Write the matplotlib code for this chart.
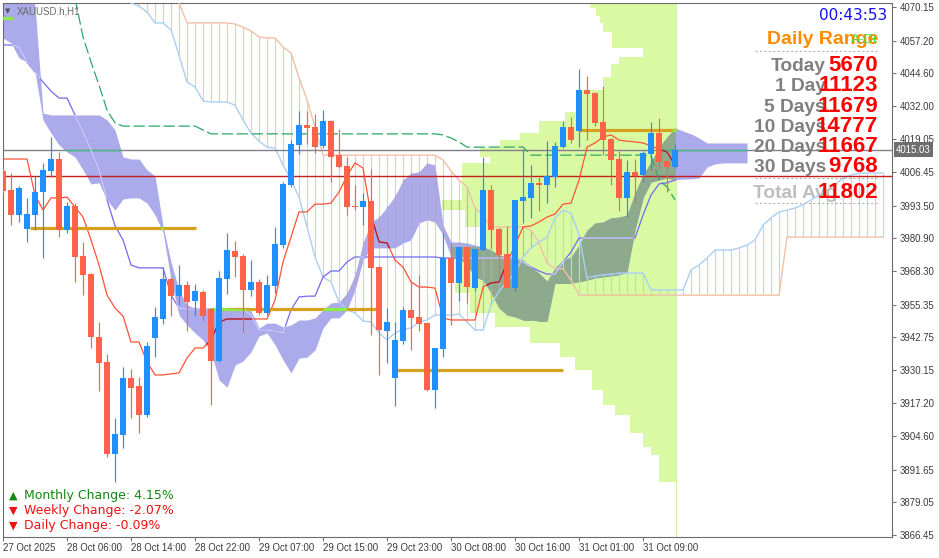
import numpy as np
import matplotlib
matplotlib.use("Agg")
import matplotlib.pyplot as plt
from matplotlib.path import Path
from matplotlib.lines import Line2D

plt.rcParams['font.family'] = ['Liberation Sans', 'DejaVu Sans']

# ---------------- data ----------------
opens = [4006.9, 3999.6, 3989.9, 3984.5, 3989.9, 3998.8, 4006.9, 4011.5, 3984.1, 3993.4,
         3974.1, 3967.1, 3942.8, 3933.2, 3897.7, 3905.0, 3927.0, 3923.9, 3912.7, 3942.5,
         3949.8, 3965.2, 3958.7, 3962.9, 3956.7, 3960.2, 3953.6, 3933.6, 3965.2, 3976.0,
         3974.1, 3961.0, 3964.1, 3952.1, 3962.5, 3978.3, 4001.5, 4016.9, 4024.6, 4023.9,
         4016.5, 4026.2, 4013.1, 4008.8, 3993.4, 3993.0, 3995.3, 3969.8, 3945.2, 3927.0,
         3941.3, 3953.3, 3950.6, 3948.2, 3922.4, 3938.2, 3973.3, 3963.7, 3977.6, 3961.7,
         3976.4, 3999.6, 3984.5, 3974.9, 3961.7, 3995.3, 3996.5, 4002.3, 4001.5, 4004.6,
         4016.1, 4023.9, 4022.3, 4038.1, 4037.0, 4025.8, 4019.2, 4011.5, 3996.5, 4006.5,
         4005.3, 4013.4, 4021.5, 4010.7, 4008.4]
highs = [4008.0, 4006.1, 4001.1, 3996.5, 4005.0, 4010.0, 4020.0, 4014.2, 3994.9, 3994.5,
         3979.5, 3967.5, 3948.6, 3936.3, 3911.6, 3931.3, 3930.5, 3927.4, 3940.9, 3954.4,
         3969.8, 3966.0, 3970.6, 3964.4, 3963.3, 3961.0, 3954.0, 3968.3, 3983.0, 3979.9,
         3974.9, 3972.5, 3965.2, 3966.8, 3985.3, 4002.6, 4018.8, 4030.0, 4030.0, 4028.9,
         4030.4, 4026.6, 4023.1, 4012.3, 4001.5, 3998.4, 4007.7, 3970.2, 3954.0, 3948.6,
         3954.4, 3964.1, 3966.8, 3948.6, 3938.6, 3983.0, 3979.1, 3977.6, 3978.0, 3976.8,
         4012.3, 4001.5, 3984.9, 3985.7, 3995.7, 4015.4, 4009.2, 4004.6, 4018.5, 4018.1,
         4026.2, 4027.7, 4046.2, 4043.5, 4037.4, 4039.7, 4019.6, 4014.6, 4011.1, 4011.5,
         4014.6, 4025.8, 4027.3, 4011.1, 4017.3]
lows = [3998.0, 3986.0, 3987.2, 3979.5, 3984.1, 3973.3, 4004.6, 3981.4, 3983.0, 3964.1,
        3959.0, 3938.6, 3922.0, 3896.5, 3886.9, 3900.0, 3911.6, 3905.8, 3912.0, 3935.1,
        3947.9, 3950.9, 3955.2, 3945.2, 3950.9, 3949.0, 3916.6, 3933.2, 3959.4, 3966.0,
        3944.4, 3958.7, 3951.3, 3951.3, 3959.8, 3977.2, 4000.7, 4013.4, 4017.3, 4013.8,
        4015.7, 4002.6, 4008.0, 3989.9, 3991.8, 3986.0, 3943.6, 3928.2, 3932.8, 3916.2,
        3940.1, 3937.8, 3945.2, 3922.0, 3915.4, 3935.1, 3947.5, 3956.7, 3956.0, 3960.6,
        3976.0, 3977.2, 3966.0, 3961.7, 3960.6, 3986.8, 3988.8, 3991.5, 3994.5, 4000.7,
        4015.7, 4017.7, 4016.1, 4018.8, 4024.2, 4013.1, 4001.5, 3991.5, 3989.1, 3994.5,
        4002.6, 4007.3, 4007.3, 3998.8, 4008.0]
closes = [3999.2, 3989.9, 4000.3, 3990.3, 3998.8, 4007.3, 4011.5, 3984.1, 3993.4, 3973.7,
          3966.8, 3942.8, 3932.8, 3897.7, 3905.4, 3927.0, 3923.2, 3912.7, 3939.4, 3950.6,
          3965.2, 3958.7, 3962.9, 3956.3, 3960.6, 3950.9, 3933.6, 3965.6, 3976.4, 3973.7,
          3961.0, 3964.1, 3952.1, 3962.9, 3978.7, 4001.9, 4017.3, 4024.6, 4023.5, 4016.1,
          4026.2, 4012.3, 4008.4, 3993.0, 3993.0, 3995.3, 3969.5, 3945.5, 3948.6, 3941.7,
          3953.3, 3950.2, 3947.9, 3922.4, 3938.6, 3973.3, 3963.7, 3977.6, 3962.1, 3976.8,
          3999.6, 3984.1, 3974.5, 3961.7, 3995.7, 3996.9, 4002.3, 4001.5, 4005.0, 4016.5,
          4023.9, 4018.8, 4038.1, 4036.6, 4025.4, 4018.8, 4011.1, 3996.5, 4006.5, 4005.0,
          4013.8, 4021.5, 4010.4, 4008.4, 4015.03]

tenkan = [4011.5, 4011.5, 4011.5, 4011.5, 3997.6, 3991.8, 3996.5, 3996.5, 3996.8, 3993.0,
          3989.1, 3980.3, 3970.6, 3959.0, 3954.0, 3950.9, 3940.9, 3940.9, 3933.2, 3928.2,
          3928.2, 3928.6, 3929.0, 3934.7, 3938.6, 3938.6, 3941.7, 3948.6, 3949.8, 3949.8,
          3949.8, 3949.8, 3949.8, 3949.8, 3957.1, 3971.8, 3981.4, 3991.1, 3991.1, 3994.1,
          3994.1, 3994.5, 3998.8, 4005.0, 4010.0, 4008.0, 3989.9, 3979.5, 3979.1, 3972.5,
          3969.8, 3964.1, 3962.1, 3962.1, 3961.7, 3950.2, 3949.4, 3949.4, 3949.4, 3949.4,
          3962.1, 3963.7, 3964.1, 3971.4, 3978.3, 3985.3, 3985.7, 3987.2, 3989.1, 3990.3,
          3994.1, 3994.5, 4003.4, 4016.1, 4017.7, 4020.0, 4020.8, 4018.8, 4018.4, 4018.1,
          4017.7, 4016.5, 4015.4, 4014.2, 4009.2]
kijun = [4055.5, 4055.5, 4054.7, 4048.9, 4045.1, 4041.2, 4037.7, 4035.0, 4035.0, 4028.5,
         4021.9, 4015.0, 4007.3, 3995.7, 3985.7, 3980.3, 3970.6, 3969.5, 3969.5, 3969.5,
         3969.5, 3959.0, 3954.0, 3953.6, 3953.6, 3953.6, 3953.6, 3953.6, 3953.6, 3953.6,
         3953.6, 3951.3, 3945.5, 3945.5, 3945.1, 3944.4, 3953.3, 3958.3, 3958.6, 3958.6,
         3966.0, 3968.3, 3968.3, 3971.8, 3973.7, 3973.7, 3973.7, 3973.7, 3973.7, 3973.7,
         3973.7, 3973.7, 3973.7, 3973.7, 3973.7, 3973.3, 3973.3, 3973.3, 3973.3, 3973.3,
         3973.3, 3973.3, 3973.3, 3973.3, 3973.3, 3971.8, 3969.8, 3968.3, 3967.1, 3967.1,
         3971.8, 3975.6, 3981.0, 3981.0, 3981.0, 3981.0, 3981.0, 3981.0, 3981.0, 3981.0,
         3989.9, 3997.6, 4001.9, 4002.3, 4003.4]
green_ma = [np.nan] * 9 + [4073.5,
            4058.6, 4048.9, 4040.0, 4030.4, 4025.4] + [4024.2] * 10 + [4022.7] + [4021.2] * 29 + \
           [4020.8, 4019.6, 4018.1] + [4016.1] * 8 + [4013.0] * 15 + [4012.7, 4003.4, 4000.7, 3995.7]

cloud_top = [4076.7, 4076.7, 4076.7, 4076.7, 4070.9, 4029.3, 4028.5, 4028.5, 4028.5, 4028.5,
             4028.5, 4028.5, 4028.5, 4026.6, 4022.7, 4012.3, 4011.5, 4011.5, 4007.3, 4005.0,
             3985.7, 3971.8, 3961.0, 3955.2, 3954.0, 3954.0, 3954.0, 3954.0, 3954.0, 3953.6,
             3953.6, 3952.9, 3946.3, 3948.2, 3948.2, 3946.7, 3947.5, 3949.4, 3949.4, 3950.2,
             3953.3, 3956.0, 3956.3, 3959.8, 3966.8, 3979.1, 3987.2, 3989.1, 3993.0, 3997.2,
             4003.4, 4006.1, 4006.5, 4010.0, 4009.2, 3986.0, 3979.5, 3979.5, 3979.1, 3978.3,
             3977.6, 3976.4, 3974.5, 3973.7, 3973.3, 3972.5, 3969.8, 3967.5, 3964.4, 3969.5,
             3972.5, 3973.7, 3978.3, 3984.1, 3986.8, 3987.2, 3988.8, 3989.1, 3989.9, 3998.4,
             4005.3, 4010.4, 4016.1, 4020.0, 4023.5, 4022.3, 4021.2, 4019.6, 4017.7, 4017.7,
             4017.7, 4017.7, 4017.7, 4017.7]
cloud_bot = [4058.2, 4056.3, 4050.5, 4048.9, 4045.1, 4026.6, 4021.5, 4016.9, 4014.2, 4012.3,
             4007.3, 4001.9, 4002.3, 3995.7, 3991.8, 3996.1, 3996.5, 3996.5, 3994.5, 3989.9,
             3983.3, 3964.8, 3951.3, 3947.5, 3944.4, 3941.7, 3937.1, 3926.3, 3923.5, 3932.0,
             3933.6, 3937.1, 3943.2, 3944.4, 3939.8, 3934.0, 3929.0, 3934.7, 3935.1, 3937.8,
             3946.3, 3950.2, 3950.2, 3953.3, 3961.0, 3972.5, 3977.2, 3977.2, 3977.2, 3977.2,
             3979.1, 3980.3, 3986.8, 3988.0, 3987.2, 3982.2, 3973.7, 3973.3, 3970.6, 3966.0,
             3964.8, 3959.8, 3954.0, 3951.3, 3950.6, 3949.4, 3949.4, 3949.0, 3949.0, 3963.7,
             3963.7, 3963.7, 3964.1, 3964.8, 3965.6, 3966.0, 3966.4, 3966.8, 3967.9, 3984.1,
             3996.5, 4002.6, 4003.4, 4004.2, 4003.4, 4003.8, 4003.8, 4004.2, 4008.4, 4009.6,
             4010.0, 4010.0, 4010.0, 4010.0]

htf_a = [4085.0] * 22 + [4071.7] + [4064.0] * 6 + \
        [4063.6, 4062.4, 4060.9, 4058.6, 4058.2, 4058.2, 4054.7, 4052.4, 4042.8, 4034.3, 4023.9] + \
        [4013.0] * 15 + [4011.1, 4006.9, 4003.4, 4000.7, 3992.6, 3989.9] + [3985.3] * 5 + \
        [3984.1, 3979.1, 3971.4, 3969.1, 3969.1, 3964.8] + [3959.0] * 26 + [3981.4] * 13
htf_b = [4085.0] * 16 + \
        [4071.7, 4070.5, 4068.2, 4064.0, 4064.0, 4061.3, 4051.6, 4041.2, 4039.3, 4033.9,
         4033.5, 4033.5, 4033.5, 4032.3, 4026.6, 4021.5, 4018.4, 4016.1, 4015.7, 4009.2,
         4003.4, 3996.8, 3985.3, 3973.7, 3966.0, 3964.1, 3956.3, 3953.3, 3952.1, 3949.0,
         3948.6, 3944.4, 3941.7, 3944.4, 3945.9, 3946.3, 3948.6, 3949.4, 3951.3, 3951.3,
         3951.3, 3951.7, 3948.6, 3945.5, 3945.5, 3955.2, 3960.6, 3964.1, 3967.5, 3973.7,
         3977.2, 3979.5, 3981.4, 3988.8, 3991.8, 3990.7, 3982.2, 3965.6, 3966.4, 3966.8,
         3967.1, 3967.5, 3967.5, 3967.5, 3967.5, 3961.0, 3961.0, 3961.0, 3961.0, 3961.0,
         3968.7, 3970.6, 3973.3, 3976.4, 3976.4, 3976.4, 3977.2, 3978.3, 3980.3, 3986.0,
         3988.8, 3991.1, 3991.8, 3992.6, 3993.8, 3995.7, 3997.6, 3999.5, 4001.5, 4004.2,
         4005.3, 4006.1, 4006.1, 4006.1, 4006.1]

vp_edges = [4071.3, 4069.8, 4066.7, 4064.0, 4060.5, 4054.3, 4050.9, 4048.2, 4043.1, 4038.1,
            4029.6, 4026.2, 4021.5, 4018.8, 4015.7, 4012.3, 4010.0, 3995.7, 3991.8, 3985.3,
            3977.6, 3972.5, 3959.8, 3952.1, 3946.7, 3940.5, 3935.1, 3930.1, 3922.4, 3916.6,
            3912.7, 3905.8, 3900.4, 3897.3, 3886.9]
vp_volume = [10.75, 10.0, 9.5, 9.1, 8.0, 4.1, 7.1, 8.1, 9.1, 12.0,
             13.9, 17.1, 19.5, 22.0, 24.5, 23.3, 26.75, 29.25, 26.4, 24.25,
             28.0, 27.6, 25.75, 22.6, 18.25, 14.5, 12.6, 10.5, 9.1, 7.6,
             5.75, 4.1, 3.1, 2.1]

gold_levels = [4065.9, 3984.9, 3953.6, 3930.1, 4022.7]
gold_start = [-0.5, 3.4, 25.9, 49.1, 72.0]
gold_end = [1.2, 24.1, 46.75, 70.0, 84.1]

bid_price = 4015.03
red_level = 4004.95

y_ticks = [4070.15, 4057.20, 4044.60, 4032.00, 4019.05, 4006.45, 3993.50, 3980.90, 3968.30,
           3955.35, 3942.75, 3930.15, 3917.20, 3904.60, 3891.65, 3879.05, 3866.45]
x_tick_pos = [0, 8, 16, 24, 32, 40, 48, 56, 64, 72, 80]
x_tick_labels = ['27 Oct 2025', '28 Oct 06:00', '28 Oct 14:00', '28 Oct 22:00', '29 Oct 07:00',
                 '29 Oct 15:00', '29 Oct 23:00', '30 Oct 08:00', '30 Oct 16:00', '31 Oct 01:00',
                 '31 Oct 09:00']

dr_labels = ['Today', '1 Day', '5 Days', '10 Days', '20 Days', '30 Days']
dr_values = ['5670', '11123', '11679', '14777', '11667', '9768']
dr_total_label = 'Total Avg'
dr_total_value = '11802'
timer_text = '00:43:53'
changes = [('Monthly Change: 4.15%', 'up'), ('Weekly Change: -2.07%', 'down'),
           ('Daily Change: -0.09%', 'down')]
symbol_text = 'XAUUSD.h,H1'

# ---------------- figure ----------------
W, H = 939, 558
fig = plt.figure(figsize=(W / 100, H / 100), dpi=100)
fig.patch.set_facecolor('white')
ax = fig.add_axes([2.7 / W, 1 - 537 / H, (892 - 2.7) / W, (537 - 3) / H])
ax.set_facecolor('white')
ax.set_xlim(-0.04, 111.12)
ax.set_ylim(3865.68, 4071.69)


def fx(x):
    return x / W


def fy(y):
    return 1 - y / H


n = len(opens)
bi = np.arange(n)

# volume profile
vp_right = n - 1 + 0.15
vhi = np.array(vp_edges[:-1])
vlo = np.array(vp_edges[1:])
vv = np.array(vp_volume)
ax.barh((vhi + vlo) / 2, vv, height=vhi - vlo, left=vp_right - vv,
        color='#D9FAA3', lw=0, zorder=1)
ax.axvline(vp_right, color='#D2F3AE', lw=0.8, zorder=0.9)
verts, codes = [], []
for a_, b_, v in zip(vhi, vlo, vv):
    x0, x1 = vp_right - v, vp_right
    verts += [(x0, b_), (x1, b_), (x1, a_), (x0, a_), (x0, b_)]
    codes += [Path.MOVETO, Path.LINETO, Path.LINETO, Path.LINETO, Path.CLOSEPOLY]
vp_path = Path(verts, codes)

# kumo
ci = np.arange(len(cloud_top))
cloud = ax.fill_between(ci, cloud_top, cloud_bot, color='#ABABEB', lw=0, zorder=2)
cloud_path = cloud.get_paths()[0]
cl2 = ax.fill_between(ci, cloud_top, cloud_bot, color='#8DAA8D', lw=0, zorder=2.1)
cl2.set_clip_path(vp_path, ax.transData)

# higher TF hatched cloud
hi_ = np.arange(len(htf_a))
A = np.array(htf_a)
B = np.array(htf_b)
sal = A > B
ax.vlines(hi_[sal], B[sal], A[sal], colors='#F2C6B4', lw=0.8, zorder=2.5)
ax.vlines(hi_[~sal], A[~sal], B[~sal], colors='#B7D6F5', lw=0.8, zorder=2.5)
hv = ax.vlines(hi_[sal], B[sal], A[sal], colors='#D9A2DC', lw=0.8, zorder=2.55)
hv.set_clip_path(vp_path, ax.transData)
hc = ax.vlines(hi_[sal], B[sal], A[sal], colors='#B4A2CC', lw=0.8, zorder=2.56)
hc.set_clip_path(cloud_path, ax.transData)
ax.plot(hi_, A, color='#F2BFA8', lw=1.0, zorder=2.7)
ax.plot(hi_, B, color='#ABCFF4', lw=1.0, zorder=2.7)

# horizontal lines
ax.axhline(bid_price, color='#80808A', lw=1.0, zorder=3)
bl = ax.axhline(bid_price, color='#3CC07C', lw=1.0, zorder=3.05)
bl.set_clip_path(cloud_path, ax.transData)
ax.axhline(red_level, color='#C41E1E', lw=1.0, zorder=3)

# gold levels
ax.hlines(gold_levels, gold_start, gold_end, colors='#D6A21E', lw=2.3, zorder=3.5)
gl = ax.hlines(gold_levels, gold_start, gold_end, colors='#8CEB4C', lw=2.3, zorder=3.55)
gl.set_clip_path(cloud_path, ax.transData)

# indicator lines
ax.plot(bi, green_ma, color='#2AA866', lw=0.9, ls=(0, (9, 3)), zorder=3.1)
ax.plot(bi, tenkan, color='#FF5233', lw=0.9, zorder=3.2)
ax.plot(bi, kijun, color='#7468F0', lw=0.9, zorder=3.2)
t2, = ax.plot(bi, tenkan, color='#A3203E', lw=0.9, zorder=3.3)
t2.set_clip_path(cloud_path, ax.transData)
k2, = ax.plot(bi, kijun, color='#D6D6F8', lw=0.9, zorder=3.3)
k2.set_clip_path(cloud_path, ax.transData)

# candles
o = np.array(opens); h = np.array(highs); l = np.array(lows); c = np.array(closes)
up = c >= o
cols = np.where(up, '#1E90FF', '#FF6347')
body_lo = np.minimum(o, c)
body_h = np.maximum(np.abs(c - o), 0.45)
ax.vlines(bi, l, h, colors=cols, lw=0.85, zorder=5)
ax.bar(bi, body_h, bottom=body_lo, width=0.64, color=cols, lw=0, zorder=6)

# axes styling
for s in ax.spines.values():
    s.set_color('#6C6C6C')
    s.set_linewidth(0.8)
ax.yaxis.tick_right()
ax.set_yticks(y_ticks)
ax.set_yticklabels([f'{v:.2f}' for v in y_ticks])
ax.set_xticks(x_tick_pos)
ax.set_xticklabels(x_tick_labels)
ax.tick_params(axis='both', direction='out', length=3, width=0.7, color='#6C6C6C',
               labelsize=6.9, labelcolor='#3A3A3A')
ax.tick_params(axis='y', pad=2.5)
ax.tick_params(axis='x', pad=1.5)
for lab in ax.get_xticklabels():
    lab.set_ha('left')

# current price box
fig.text(fx(896), fy(149.5), f'{bid_price:.2f}', ha='left', va='center', fontsize=6.9,
         color='white', bbox=dict(boxstyle='square,pad=0.22', fc='#6E6E6E', ec='none'))

# symbol label
fig.text(fx(5), fy(13), '\u25BC', fontsize=5, color='#555555', ha='left', va='baseline',
         family='DejaVu Sans')
fig.text(fx(17), fy(14), symbol_text, fontsize=7, color='#6A6A6A', ha='left', va='baseline')

# timer and daily range panel
fig.text(fx(887), fy(20.5), timer_text, fontsize=11, color='#1010F0', ha='right',
         va='baseline', family='DejaVu Sans')
fig.text(fx(878), fy(44), 'Daily Range', fontsize=14, color='#FF8C00', ha='right',
         va='baseline', weight='bold')
fig.text(fx(877), fy(43), 'A-Di', fontsize=9.5, color='#44DD44', ha='right', va='baseline')
for yy in (51, 178, 203):
    fig.add_artist(Line2D([fx(755), fx(877)], [fy(yy), fy(yy)], color='#B4B4B4', lw=0.8,
                          ls=(0, (2, 2))))
row_base = [71, 91, 111.5, 131.5, 151.5, 171.5]
for lab, val, yb in zip(dr_labels, dr_values, row_base):
    fig.text(fx(826), fy(yb), lab, fontsize=13.8, color='#808080', ha='right', va='baseline',
             weight='bold')
    fig.text(fx(878), fy(yb), val, fontsize=16, color='#FF0000', ha='right', va='baseline',
             weight='bold')
fig.text(fx(753), fy(197.5), dr_total_label, fontsize=13.8, color='#BEBEBE', ha='left',
         va='baseline', weight='bold')
fig.text(fx(878), fy(197.5), dr_total_value, fontsize=16, color='#FF0000', ha='right',
         va='baseline', weight='bold')

# change texts
for k, (txt, d) in enumerate(changes):
    yb = 499 + 15 * k
    colr = '#118811' if d == 'up' else '#F01010'
    fig.text(fx(9), fy(yb), '\u25B2' if d == 'up' else '\u25BC', fontsize=8, color=colr,
             ha='left', va='baseline', family='DejaVu Sans')
    fig.text(fx(24), fy(yb), txt, fontsize=9, color=colr, ha='left', va='baseline',
             family='DejaVu Sans')

fig.savefig('out.png', dpi=100)
